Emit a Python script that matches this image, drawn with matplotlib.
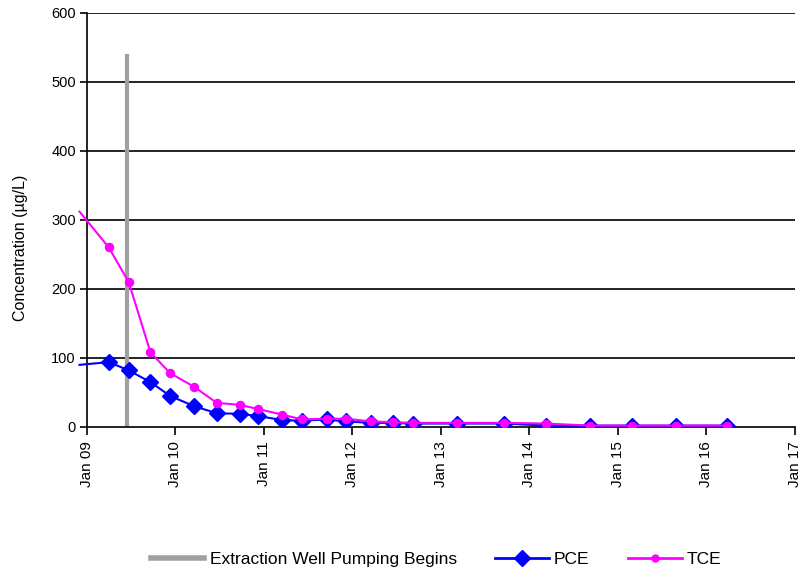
import matplotlib
matplotlib.use("Agg")
import matplotlib.pyplot as plt
import matplotlib.dates as mdates
from datetime import datetime

plt.rcParams['font.family'] = ['Liberation Sans', 'DejaVu Sans']

dates = ["2008-12-01", "2009-04-01", "2009-06-22", "2009-09-20", "2009-12-10",
         "2010-03-20", "2010-06-20", "2010-09-25", "2010-12-08", "2011-03-17",
         "2011-06-07", "2011-09-18", "2011-12-05", "2012-03-20", "2012-06-16",
         "2012-09-06", "2013-03-06", "2013-09-20", "2014-03-10", "2014-09-10",
         "2015-03-01", "2015-08-28", "2016-03-25"]
pce = [90, 94, 82, 65, 45, 30, 20, 19, 16, 10, 9, 11, 8, 6, 6, 5, 5, 5, 2, 2, 2, 2, 2]
tce = [312, 260, 210, 108, 78, 58, 35, 32, 26, 18, 11, 12, 12, 8, 7, 6, 6, 6, 5, 2, 2, 2, 2]
pump_date = "2009-06-15"
pump_top = 538
tick_years = list(range(2009, 2018))

d = [datetime.strptime(s, "%Y-%m-%d") for s in dates]
pd_ = datetime.strptime(pump_date, "%Y-%m-%d")

fig = plt.figure(figsize=(8.03, 5.74), dpi=100)
ax = fig.add_axes([87/803, 1-427/574, (795-87)/803, (427-12.7)/574])

ax.set_xlim(datetime(2009, 1, 1), datetime(2017, 1, 1))
ax.set_ylim(0, 600)

for y in range(100, 601, 100):
    ax.axhline(y, color='black', lw=1.2, zorder=1)

ax.plot([pd_, pd_], [0, pump_top], color='#a0a0a0', lw=3, zorder=2,
        label='Extraction Well Pumping Begins')

# lines (first point lies just before the axis start)
ax.plot(d, pce, color='#0000ff', lw=1.5, zorder=3, clip_on=False)
ax.plot(d, tce, color='#ff00ff', lw=1.5, zorder=4, clip_on=False)
ax.plot(d[1:], pce[1:], color='#0000ff', marker='D', ms=8.5, ls='none', zorder=3)
ax.plot(d[1:], tce[1:], color='#ff00ff', marker='o', ms=5.8, ls='none', zorder=4)

# legend handles
ax.plot([], [], color='#0000ff', lw=2, marker='D', ms=8.5, label='PCE')
ax.plot([], [], color='#ff00ff', lw=2, marker='o', ms=5, label='TCE')

ax.set_xticks([datetime(y, 1, 1) for y in tick_years])
ax.xaxis.set_major_formatter(mdates.DateFormatter('%b %y'))
ax.set_yticks(range(0, 601, 100))
for lab in ax.get_xticklabels():
    lab.set_rotation(90)
ax.tick_params(axis='x', labelsize=11, length=6, width=1.2, direction='out', pad=4)
ax.tick_params(axis='y', labelsize=10.5, length=5, width=1.2, direction='out', pad=3)

for s in ['top', 'right']:
    ax.spines[s].set_visible(False)
for s in ['left', 'bottom']:
    ax.spines[s].set_linewidth(1.2)

ax.set_ylabel('Concentration (µg/L)', fontsize=11.5)
ax.yaxis.set_label_coords((28-87)/708, (427-248)/414.3)

h, l = ax.get_legend_handles_labels()
leg = fig.legend(h, l, loc='center', bbox_to_anchor=(0.543, 0.026), ncol=3, frameon=False,
                 fontsize=12.5, handlelength=3.1, handletextpad=0.3, columnspacing=2.2)
leg.get_lines()[0].set_linewidth(4)

fig.savefig('out.png', dpi=100)
